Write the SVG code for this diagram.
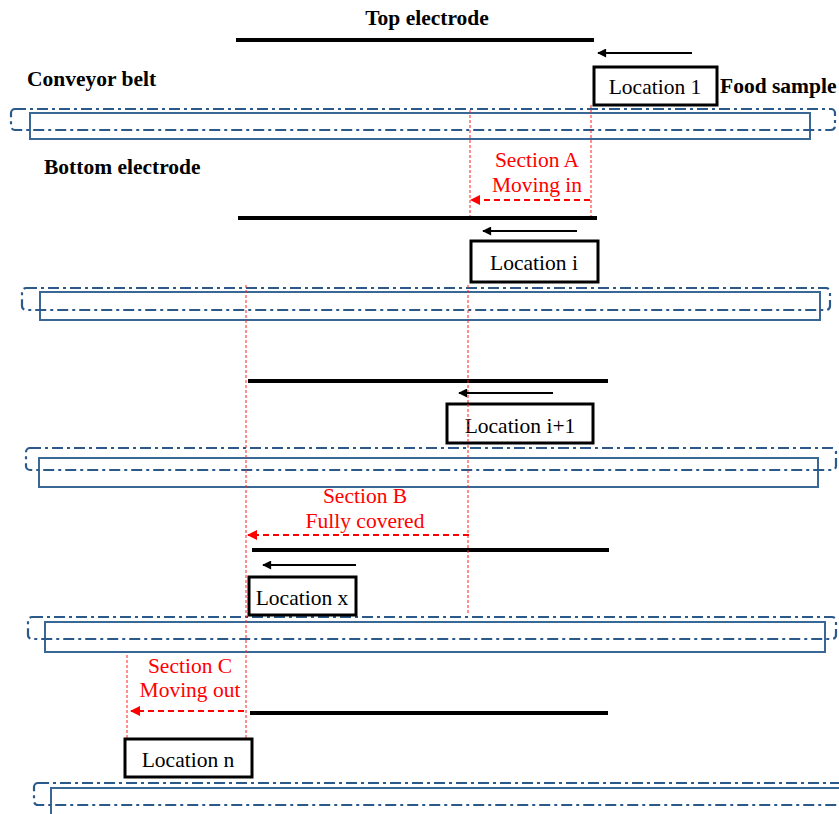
<svg xmlns="http://www.w3.org/2000/svg" width="839" height="814" viewBox="0 0 839 814">
<style>
.bg{fill:#fff}
text{font-family:'Liberation Serif','Times New Roman','DejaVu Serif',serif}
.lbl{font-weight:bold;font-size:21.5px;fill:#000}
.loc{font-size:21.5px;fill:#000;text-anchor:middle}
.sec{font-size:21.5px;fill:#ff0000;text-anchor:middle}
.box{fill:#fff;stroke:#000;stroke-width:3}
.elec{stroke:#000;stroke-width:4}
.mv{stroke:#000;stroke-width:2;fill:none;marker-end:url(#ab)}
.belt{fill:none;stroke:#2b5a8a;stroke-width:2.2;stroke-dasharray:11 4 3 4}
.base{fill:none;stroke:#3a6896;stroke-width:2}
.guide{stroke:#ff2020;stroke-width:1;stroke-dasharray:3 2;fill:none}
.sarr{stroke:#ff0000;stroke-width:2;stroke-dasharray:6 4;fill:none;marker-end:url(#ar)}
</style>
<defs>
<marker id="ab" viewBox="0 0 10 10" refX="9" refY="5" markerWidth="11" markerHeight="9" orient="auto" markerUnits="userSpaceOnUse">
<path d="M0,0 L10,5 L0,10 z" fill="#000"/>
</marker>
<marker id="ar" viewBox="0 0 10 10" refX="9" refY="5" markerWidth="11" markerHeight="10" orient="auto" markerUnits="userSpaceOnUse">
<path d="M0,0 L10,5 L0,10 z" fill="#ff0000"/>
</marker>
</defs>
<rect class="bg" x="0" y="0" width="839" height="814"/>

<g id="labels">
<text class="lbl" x="427" y="25" text-anchor="middle">Top electrode</text>
<text class="lbl" x="27" y="86">Conveyor belt</text>
<text class="lbl" x="720" y="93">Food sample</text>
<text class="lbl" x="44" y="174">Bottom electrode</text>
</g>

<g id="belts">
<rect class="base" x="30" y="113" width="780" height="26"/>
<rect class="belt" x="11" y="109" width="824" height="21" rx="4"/>
<rect class="base" x="40" y="292" width="780" height="28"/>
<rect class="belt" x="22" y="288" width="808" height="22" rx="4"/>
<rect class="base" x="39" y="458" width="779" height="29"/>
<rect class="belt" x="26" y="448" width="810" height="22" rx="4"/>
<rect class="base" x="45" y="622" width="780" height="30"/>
<rect class="belt" x="28" y="617" width="808" height="22" rx="4"/>
<rect class="base" x="51" y="788" width="790" height="40"/>
<rect class="belt" x="34" y="783" width="812" height="22" rx="4"/>
</g>

<g id="electrodes">
<line class="elec" x1="236" y1="40" x2="594" y2="40"/>
<line class="elec" x1="238" y1="218" x2="597" y2="218"/>
<line class="elec" x1="248" y1="381" x2="608" y2="381"/>
<line class="elec" x1="252" y1="550" x2="609" y2="550"/>
<line class="elec" x1="250" y1="713" x2="608" y2="713"/>
</g>

<g id="connectors">
<line class="guide" x1="470" y1="110" x2="470" y2="216"/>
<line class="guide" x1="591" y1="105" x2="591" y2="216"/>
<line class="guide" x1="246" y1="285" x2="246" y2="739"/>
<line class="guide" x1="468" y1="285" x2="468" y2="615"/>
<line class="guide" x1="127" y1="655" x2="127" y2="739"/>
<line class="mv" x1="692" y1="53" x2="598" y2="53"/>
<line class="mv" x1="577" y1="231" x2="483" y2="231"/>
<line class="mv" x1="553" y1="393" x2="459" y2="393"/>
<line class="mv" x1="356" y1="565" x2="263" y2="565"/>
<line class="sarr" x1="590" y1="200" x2="471" y2="200"/>
<line class="sarr" x1="469" y1="535" x2="248" y2="535"/>
<line class="sarr" x1="244" y1="711" x2="131" y2="711"/>
</g>

<g id="sections">
<text class="sec" x="537" y="167">Section A</text>
<text class="sec" x="537" y="192">Moving in</text>
<text class="sec" x="365" y="503">Section B</text>
<text class="sec" x="365" y="528">Fully covered</text>
<text class="sec" x="190" y="673">Section C</text>
<text class="sec" x="190" y="697">Moving out</text>
</g>

<g id="location-1">
<rect class="box" x="594" y="67" width="123" height="38"/>
<text class="loc" x="655" y="94">Location 1</text>
</g>
<g id="location-i">
<rect class="box" x="471" y="241" width="127" height="41"/>
<text class="loc" x="534" y="270">Location i</text>
</g>
<g id="location-i1">
<rect class="box" x="447" y="404" width="146" height="39"/>
<text class="loc" x="520" y="433">Location i+1</text>
</g>
<g id="location-x">
<rect class="box" x="249" y="577" width="107" height="38"/>
<text class="loc" x="302" y="605">Location x</text>
</g>
<g id="location-n">
<rect class="box" x="125" y="739" width="127" height="38"/>
<text class="loc" x="188" y="767">Location n</text>
</g>
<line class="guide" x1="468" y1="404" x2="468" y2="443"/>
</svg>
